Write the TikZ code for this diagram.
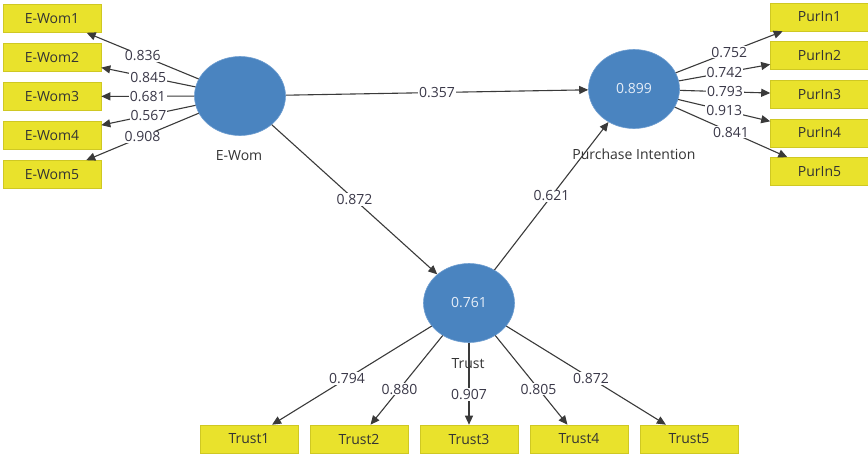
\documentclass[tikz,border=0pt]{standalone}
\usepackage{fontspec}
\setmainfont{Open Sans}
\usetikzlibrary{shapes.geometric,arrows.meta}
\definecolor{lvblue}{HTML}{4A84C0}
\definecolor{lvedge}{HTML}{6E9DD0}
\definecolor{lvtext}{HTML}{E6EEF8}
\definecolor{indfill}{HTML}{E9E22C}
\definecolor{indedge}{HTML}{CFC823}
\definecolor{indtext}{HTML}{333333}
\definecolor{linkgray}{HTML}{3A3A3A}
\definecolor{coeftext}{HTML}{3A3848}
\begin{document}
\begin{tikzpicture}[x=1pt,y=-1pt,
  font=\fontsize{14}{16}\selectfont,
  latent/.style={ellipse, fill=lvblue, draw=lvedge, line width=0.6pt,
    minimum width=91pt, minimum height=79pt, inner sep=0pt, text=lvtext},
  indicator/.style={rectangle, fill=indfill, draw=indedge, line width=0.6pt,
    minimum width=98pt, minimum height=28pt, inner sep=0pt, text=indtext},
  link/.style={draw=linkgray, line width=1.1pt, -{Triangle[length=9pt,width=8pt]}},
  coef/.style={fill=white, inner sep=1pt, text=coeftext},
  caption/.style={text=indtext, inner sep=0pt}]
\useasboundingbox (0,0) rectangle (868,456);

% latent variables
\node[latent] (ewom)  at (240,96)  {};
\node[latent] (pi)    at (634,89)  {0.899};
\node[latent] (trust) at (469,303) {0.761};

\node[caption] (ewomlab)  at (239,156) {E-Wom};
\node[caption] (pilab)    at (634,154) {Purchase Intention};
\node[caption] (trustlab) at (468,364) {Trust};

% indicators of E-Wom
\node[indicator] (ew1) at (52,18.5)  {E-Wom1};
\node[indicator] (ew2) at (52,57.5)  {E-Wom2};
\node[indicator] (ew3) at (52,96.5)  {E-Wom3};
\node[indicator] (ew4) at (52,135.5) {E-Wom4};
\node[indicator] (ew5) at (52,174.5) {E-Wom5};

% indicators of Purchase Intention
\node[indicator] (pu1) at (819.5,17)    {PurIn1};
\node[indicator] (pu2) at (819.5,55.5)  {PurIn2};
\node[indicator] (pu3) at (819.5,94.5)  {PurIn3};
\node[indicator] (pu4) at (819.5,133)   {PurIn4};
\node[indicator] (pu5) at (819.5,171.5) {PurIn5};

% indicators of Trust
\node[indicator] (tr1) at (249,439) {Trust1};
\node[indicator] (tr2) at (359,439) {Trust2};
\node[indicator] (tr3) at (469,439) {Trust3};
\node[indicator] (tr4) at (579,439) {Trust4};
\node[indicator] (tr5) at (689,439) {Trust5};

% outer loadings
\draw[link] (ewom) -- node[coef,pos=0.5] {0.836} (ew1);
\draw[link] (ewom) -- node[coef,pos=0.5] {0.845} (ew2);
\draw[link] (ewom) -- node[coef,pos=0.5] {0.681} (ew3);
\draw[link] (ewom) -- node[coef,pos=0.5] {0.567} (ew4);
\draw[link] (ewom) -- node[coef,pos=0.5] {0.908} (ew5);

\draw[link] (pi) -- node[coef,pos=0.5] {0.752} (pu1);
\draw[link] (pi) -- node[coef,pos=0.5] {0.742} (pu2);
\draw[link] (pi) -- node[coef,pos=0.5] {0.793} (pu3);
\draw[link] (pi) -- node[coef,pos=0.5] {0.913} (pu4);
\draw[link] (pi) -- node[coef,pos=0.5] {0.841} (pu5);

\draw[link] (trust) -- node[coef,pos=0.53] {0.794} (tr1);
\draw[link] (trust) -- node[coef,pos=0.6] {0.880} (tr2);
\draw[link] (trust) -- node[coef,pos=0.63] {0.907} (tr3);
\draw[link] (trust) -- node[coef,pos=0.6] {0.805} (tr4);
\draw[link] (trust) -- node[coef,pos=0.53] {0.872} (tr5);

% structural paths
\draw[link] (ewom)  -- node[coef,pos=0.5] {0.357} (pi);
\draw[link] (ewom)  -- node[coef,pos=0.5] {0.872} (trust);
\draw[link] (trust) -- node[coef,pos=0.5] {0.621} (pi);
\end{tikzpicture}
\end{document}
